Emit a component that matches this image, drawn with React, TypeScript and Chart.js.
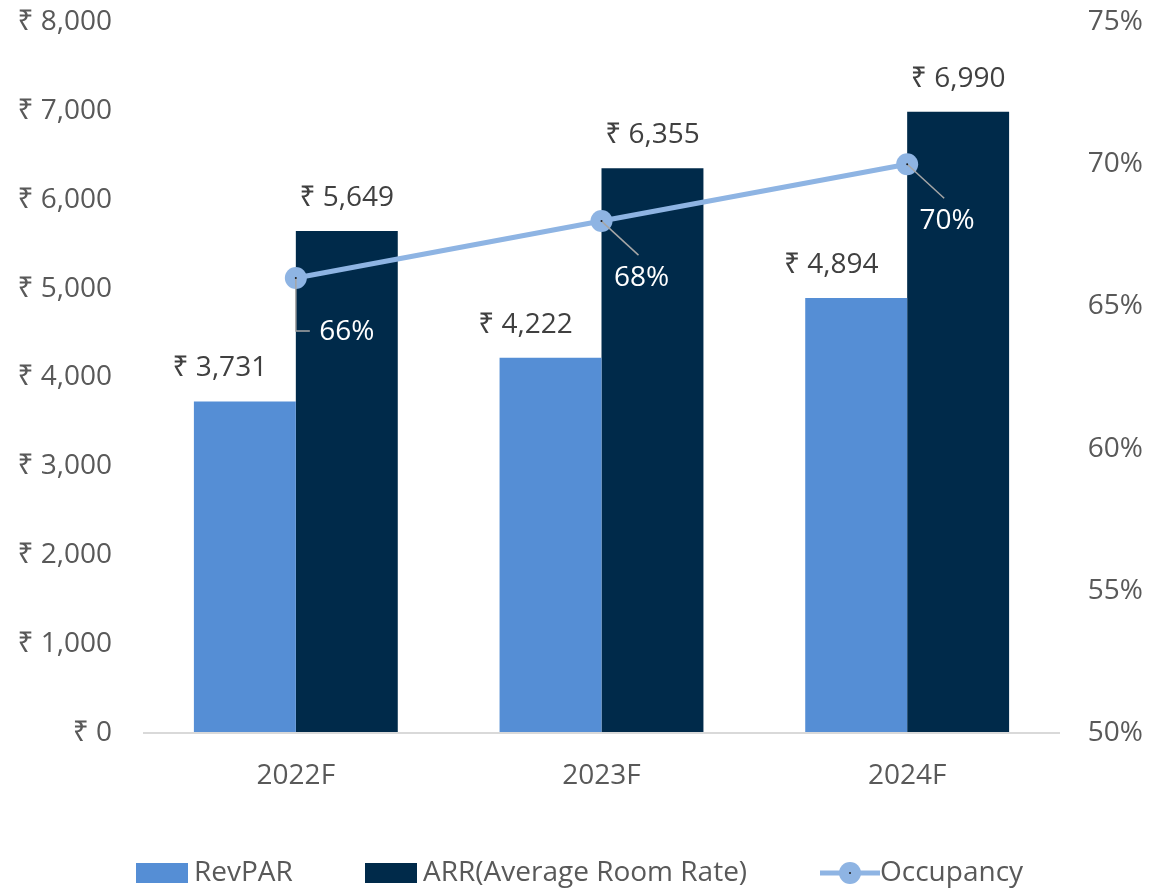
import React, { useEffect, useRef } from "react";
import { Chart, registerables } from "chart.js";

Chart.register(...registerables);

const categories = ["2022F", "2023F", "2024F"];
const revpar = [3731, 4222, 4894];
const arr = [5649, 6355, 6990];
const occupancy = [0.66, 0.68, 0.7];
const seriesNames = ["RevPAR", "ARR(Average Room Rate)", "Occupancy"];
const leftTicks = [0, 1000, 2000, 3000, 4000, 5000, 6000, 7000, 8000];
const rightTicks = [0.5, 0.55, 0.6, 0.65, 0.7, 0.75];

const FONT = "'Open Sans', 'Noto Sans', 'DejaVu Sans', sans-serif";
const C_REV = "#558ED5";
const C_ARR = "#002A4A";
const C_OCC = "#8EB4E3";
const TXT = "#595959";

const rupee = (v: number) => "\u20B9 " + v.toLocaleString("en-US");

const labelsPlugin = {
  id: "labelsPlugin",
  afterDatasetsDraw(chart: any) {
    const ctx = chart.ctx;
    ctx.save();
    ctx.font = `28px ${FONT}`;
    ctx.fillStyle = "#404040";
    ctx.textAlign = "center";
    ctx.textBaseline = "middle";
    const m0 = chart.getDatasetMeta(0);
    m0.data.forEach((el: any, i: number) => {
      ctx.fillText(rupee(revpar[i]), el.x - 25, el.y - 33);
    });
    const m1 = chart.getDatasetMeta(1);
    m1.data.forEach((el: any, i: number) => {
      ctx.fillText(rupee(arr[i]), el.x, el.y - 33);
    });
    const m2 = chart.getDatasetMeta(2);
    m2.data.forEach((el: any, i: number) => {
      ctx.strokeStyle = "#A6A6A6";
      ctx.lineWidth = 1.5;
      ctx.beginPath();
      if (i === 0) {
        ctx.moveTo(el.x, el.y);
        ctx.lineTo(el.x, el.y + 53);
        ctx.lineTo(el.x + 14, el.y + 53);
      } else {
        ctx.moveTo(el.x, el.y);
        ctx.lineTo(el.x + 37, el.y + 34);
      }
      ctx.stroke();
      ctx.fillStyle = "#1A1A1A";
      ctx.beginPath();
      ctx.arc(el.x, el.y, 1, 0, Math.PI * 2);
      ctx.fill();
      ctx.fillStyle = "#FFFFFF";
      const lx = i === 0 ? el.x + 51 : el.x + 40;
      const ly = i === 0 ? el.y + 54 : el.y + 57;
      ctx.fillText(Math.round(occupancy[i] * 100) + "%", lx, ly);
    });
    ctx.restore();
  },
  afterDraw(chart: any) {
    const ctx = chart.ctx;
    ctx.save();
    const y = 873;
    ctx.font = `28px ${FONT}`;
    ctx.textBaseline = "middle";
    ctx.textAlign = "left";
    ctx.fillStyle = C_REV;
    ctx.fillRect(136, y - 10, 52, 20);
    ctx.fillStyle = TXT;
    ctx.fillText(seriesNames[0], 194, y);
    ctx.fillStyle = C_ARR;
    ctx.fillRect(365, y - 10, 52, 20);
    ctx.fillStyle = TXT;
    ctx.fillText(seriesNames[1], 423, y);
    ctx.strokeStyle = C_OCC;
    ctx.lineWidth = 5;
    ctx.beginPath();
    ctx.moveTo(820, y);
    ctx.lineTo(880, y);
    ctx.stroke();
    ctx.fillStyle = C_OCC;
    ctx.beginPath();
    ctx.arc(850, y, 11, 0, Math.PI * 2);
    ctx.fill();
    ctx.fillStyle = "#1A1A1A";
    ctx.beginPath();
    ctx.arc(850, y, 1, 0, Math.PI * 2);
    ctx.fill();
    ctx.fillStyle = TXT;
    ctx.fillText(seriesNames[2], 880, y);
    ctx.restore();
  },
};

export default function App() {
  const ref = useRef<HTMLCanvasElement | null>(null);
  useEffect(() => {
    if (!ref.current) return;
    const chart = new Chart(ref.current, {
      type: "bar",
      data: {
        labels: categories,
        datasets: [
          {
            type: "bar",
            label: seriesNames[0],
            data: revpar,
            backgroundColor: C_REV,
            yAxisID: "y",
            order: 2,
            categoryPercentage: 0.667,
            barPercentage: 1,
          },
          {
            type: "bar",
            label: seriesNames[1],
            data: arr,
            backgroundColor: C_ARR,
            yAxisID: "y",
            order: 2,
            categoryPercentage: 0.667,
            barPercentage: 1,
          },
          {
            type: "line",
            label: seriesNames[2],
            data: occupancy,
            borderColor: C_OCC,
            backgroundColor: C_OCC,
            borderWidth: 5,
            pointRadius: 11,
            pointBorderWidth: 0,
            pointBackgroundColor: C_OCC,
            yAxisID: "y1",
            order: 0,
          } as any,
        ],
      },
      options: {
        responsive: false,
        animation: false,
        layout: { autoPadding: false, padding: { top: 0, right: 7, bottom: 70, left: 0 } },
        plugins: {
          legend: { display: false },
          tooltip: { enabled: false },
        },
        scales: {
          x: {
            grid: { display: false },
            border: { display: false },
            ticks: { color: TXT, font: { family: FONT, size: 28 }, padding: 18 },
            afterFit: (s: any) => {
              s.height = 88;
            },
          },
          y: {
            position: "left",
            min: 0,
            max: 8000,
            afterBuildTicks: (s: any) => {
              s.ticks = leftTicks.map((v) => ({ value: v }));
            },
            afterFit: (s: any) => {
              s.width = 143;
              s.paddingTop = 22;
              s.paddingBottom = 0;
            },
            grid: {
              drawTicks: false,
              lineWidth: 2,
              color: (c: any) => (c.tick && c.tick.value === 0 ? "#D9D9D9" : "rgba(0,0,0,0)"),
            },
            border: { display: false },
            ticks: {
              color: TXT,
              font: { family: FONT, size: 28 },
              padding: 31,
              callback: (v: any) => rupee(Number(v)),
            },
          },
          y1: {
            position: "right",
            min: 0.5,
            max: 0.75,
            afterBuildTicks: (s: any) => {
              s.ticks = rightTicks.map((v) => ({ value: v }));
            },
            afterFit: (s: any) => {
              s.width = 83;
              s.paddingTop = 22;
              s.paddingBottom = 0;
            },
            grid: { display: false },
            border: { display: false },
            ticks: {
              color: TXT,
              font: { family: FONT, size: 28 },
              crossAlign: "far",
              callback: (v: any) => Math.round(Number(v) * 100) + "%",
            },
          },
        },
      },
      plugins: [labelsPlugin],
    });
    return () => chart.destroy();
  }, []);
  return (
    <div style={{ position: "absolute", left: 0, top: 0, width: 1150, height: 891, background: "#fff" }}>
      <canvas ref={ref} width={1150} height={891} style={{ display: "block" }} />
    </div>
  );
}
